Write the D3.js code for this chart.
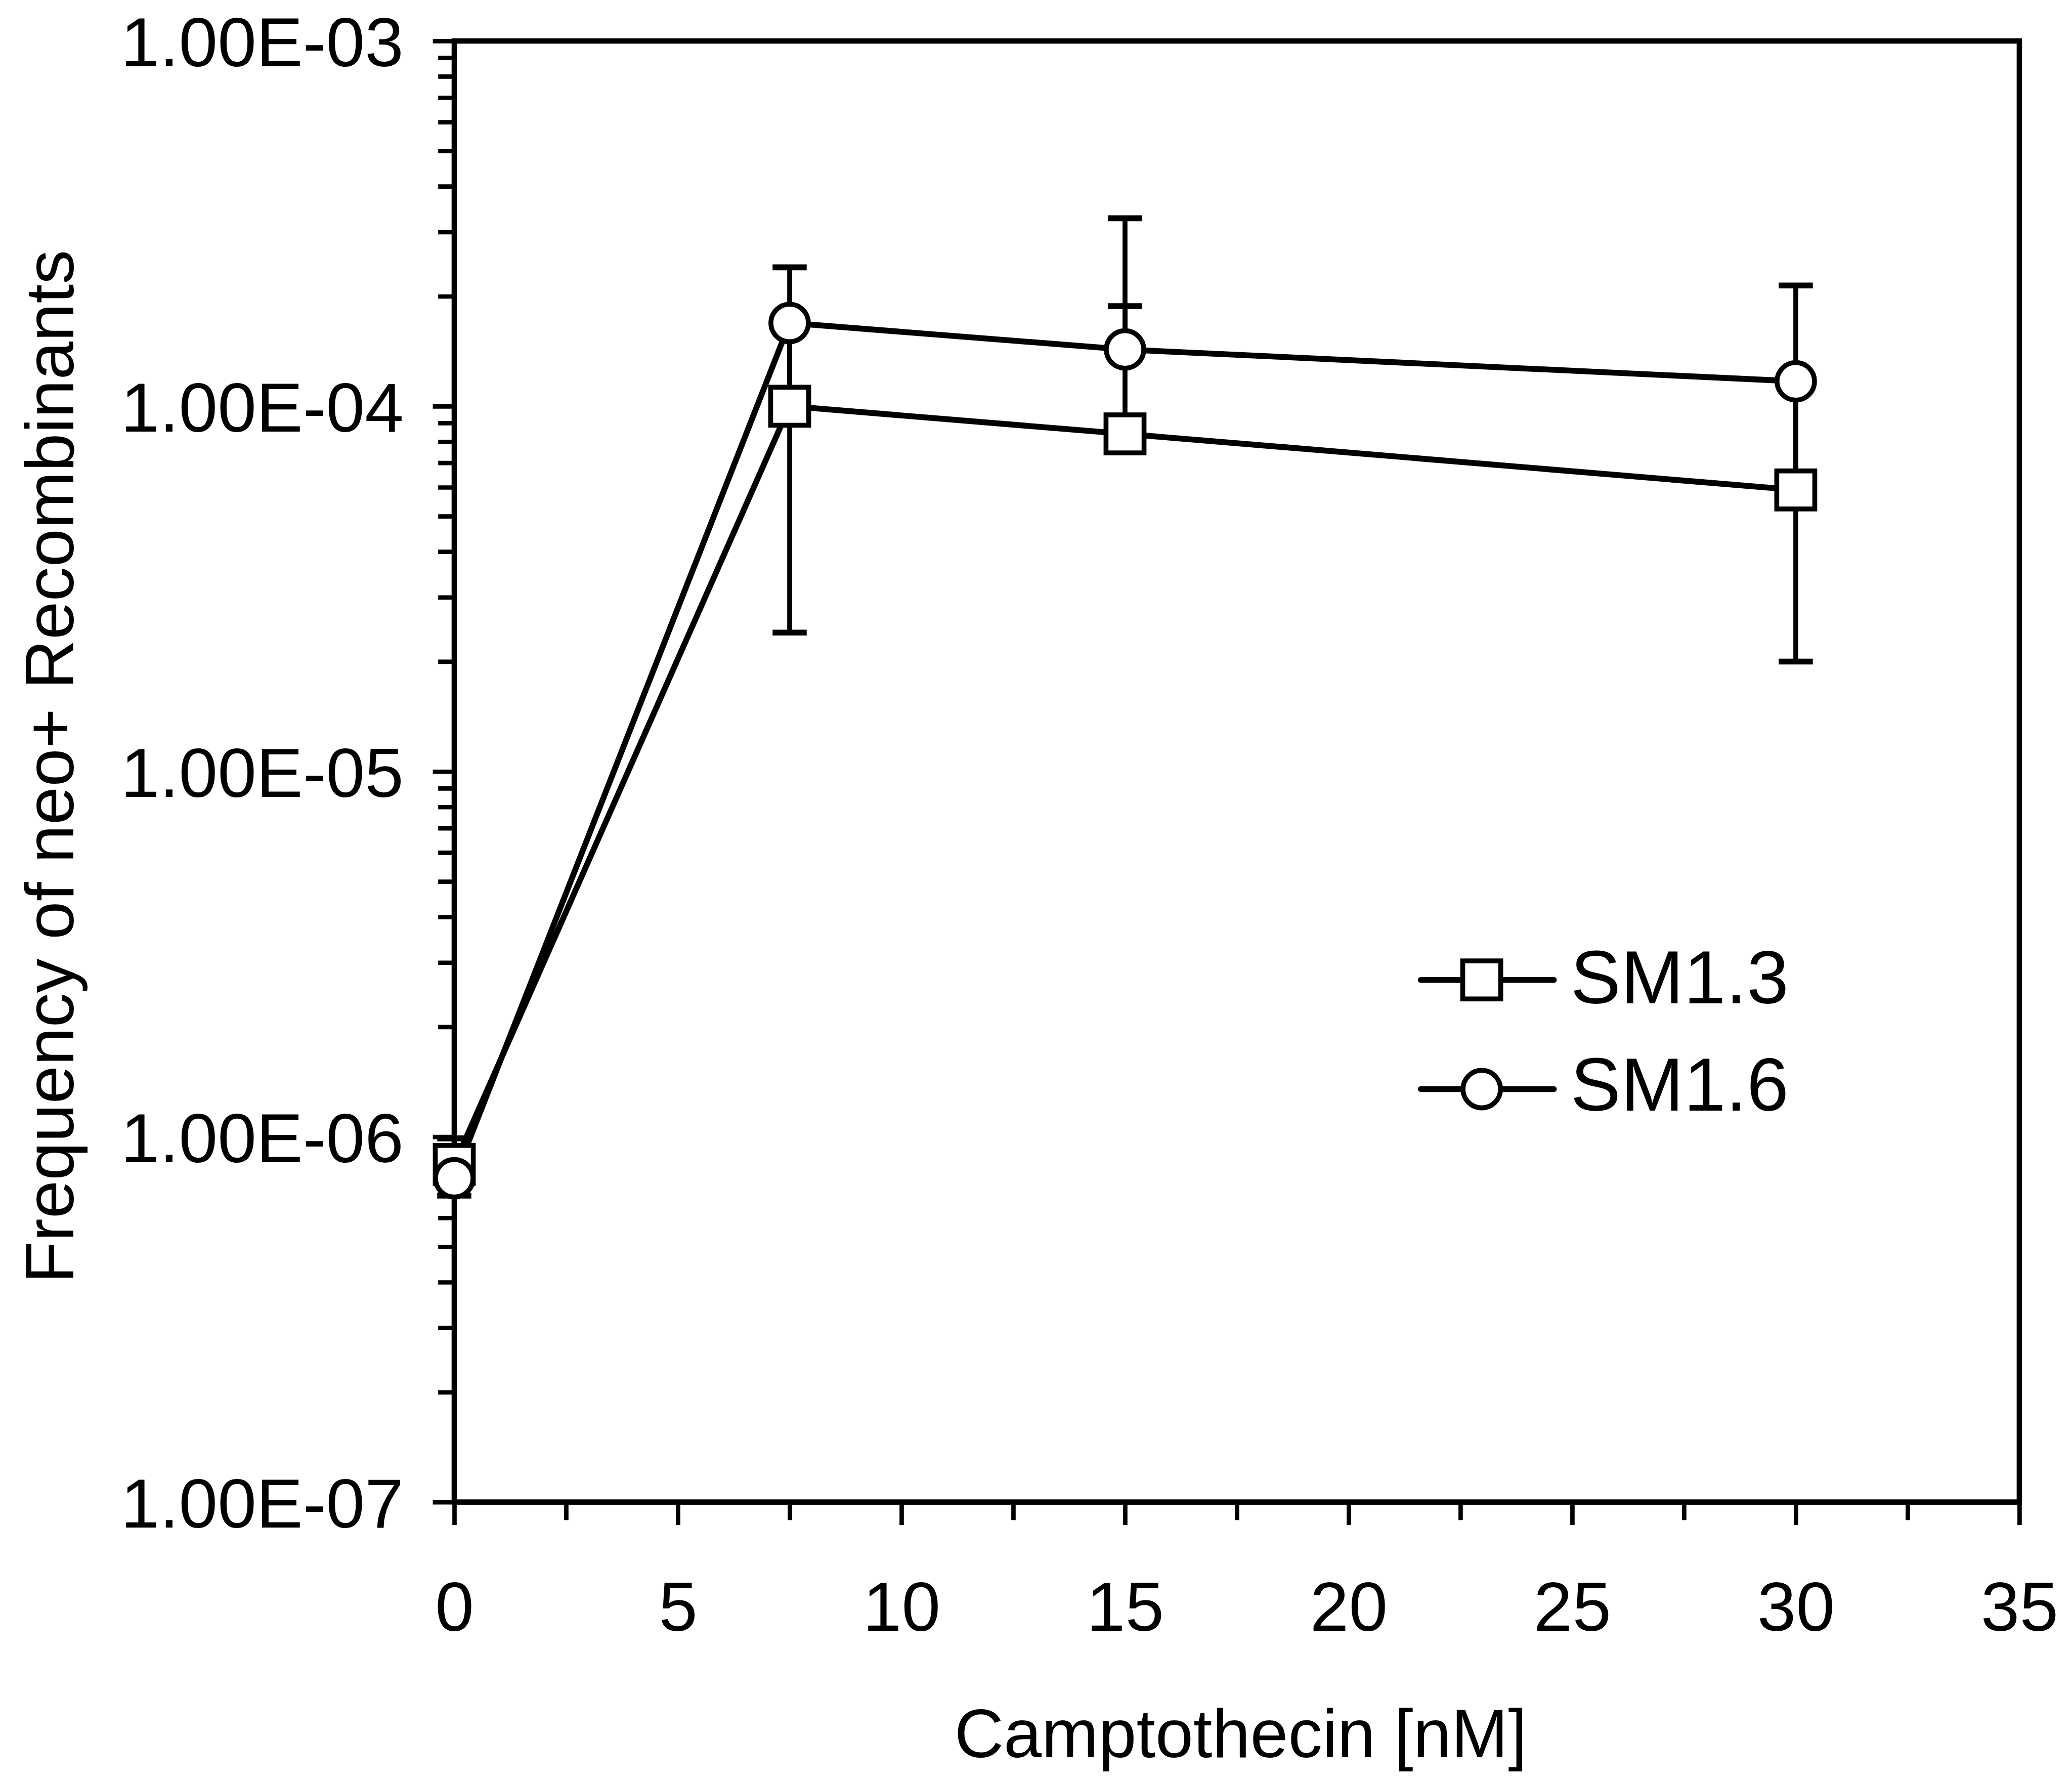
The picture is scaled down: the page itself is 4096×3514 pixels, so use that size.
<!DOCTYPE html>
<html>
<head>
<meta charset="utf-8">
<script src="https://cdn.jsdelivr.net/npm/d3@7"></script>
<style>
  html, body { margin: 0; padding: 0; background: #fff; }
  svg { display: block; }
  text { font-family: "Liberation Sans", Arial, sans-serif; fill: #000; }
</style>
</head>
<body>
<svg id="chart"></svg>
<script>
// Camptothecin dose vs. frequency of neo+ recombinants
const concentrations = [0, 7.5, 15, 30];            // nM
const seriesNames = ["SM1.3", "SM1.6"];
const sm13Values = [8.4e-7, 1.0e-4, 8.4e-5, 5.9e-5];
const sm13Errors = [1.5e-7, 7.6e-5, 1.04e-4, 6.5e-5];
const sm16Values = [7.7e-7, 1.69e-4, 1.43e-4, 1.17e-4];
const sm16Errors = [0, 7.1e-5, 1.84e-4, 9.7e-5];

const xTickValues = [0, 5, 10, 15, 20, 25, 30, 35];
const xTickLabels = ["0", "5", "10", "15", "20", "25", "30", "35"];
const yTickValues = [1e-7, 1e-6, 1e-5, 1e-4, 1e-3];
const yTickLabels = ["1.00E-07", "1.00E-06", "1.00E-05", "1.00E-04", "1.00E-03"];
const xTitle = "Camptothecin [nM]";
const yTitle = "Frequency of neo+ Recombinants";

// drawing units (full-size canvas), scaled to the window by viewBox
const W = 4251, H = 3647;
const plot = { left: 932, top: 84, right: 4143, bottom: 3081 };

const svg = d3.select("#chart")
  .attr("width", 4096).attr("height", 3514)
  .attr("viewBox", `0 0 ${W} ${H}`);

const x = d3.scaleLinear().domain([0, 35]).range([plot.left, plot.right]);
const y = d3.scaleLog().domain([1e-7, 1e-3]).range([plot.bottom, plot.top]);

const tickFont = 143;

// minor ticks
const xMinor = d3.range(2.5, 35, 5);
const yMinor = [];
for (let e = -7; e < -3; e++) for (let m = 2; m <= 9; m++) yMinor.push(m * Math.pow(10, e));

const gxMinor = svg.append("g").attr("transform", `translate(0,${plot.bottom})`)
  .call(d3.axisBottom(x).tickValues(xMinor).tickSize(37).tickSizeOuter(0).tickFormat(""));
const gyMinor = svg.append("g").attr("transform", `translate(${plot.left},0)`)
  .call(d3.axisLeft(y).tickValues(yMinor).tickSize(33).tickSizeOuter(0).tickFormat(""));

const gx = svg.append("g").attr("transform", `translate(0,${plot.bottom})`)
  .call(d3.axisBottom(x).tickValues(xTickValues).tickSize(47).tickSizeOuter(0)
    .tickFormat((d, i) => xTickLabels[i]));
const gy = svg.append("g").attr("transform", `translate(${plot.left},0)`)
  .call(d3.axisLeft(y).tickValues(yTickValues).tickSize(44).tickSizeOuter(0)
    .tickFormat((d, i) => yTickLabels[i]));

[gxMinor, gyMinor, gx, gy].forEach(g => {
  g.select(".domain").remove();
  g.selectAll(".tick line").attr("stroke", "#000").attr("stroke-width", 9);
});

gx.selectAll(".tick text")
  .attr("y", 264).attr("dy", 0)
  .style("font-size", tickFont + "px");
gy.selectAll(".tick text")
  .attr("x", -104).attr("dy", "0.36em")
  .style("font-size", tickFont + "px");

// plot frame
svg.append("rect")
  .attr("x", plot.left).attr("y", plot.top)
  .attr("width", plot.right - plot.left).attr("height", plot.bottom - plot.top)
  .attr("fill", "none").attr("stroke", "#000").attr("stroke-width", 11);

// axis titles
svg.append("text")
  .attr("x", (plot.left + plot.right) / 2 + 8).attr("y", 3604)
  .attr("text-anchor", "middle")
  .style("font-size", "140px")
  .text(xTitle);

svg.append("text")
  .attr("transform", `translate(150,${(plot.top + plot.bottom) / 2 - 10}) rotate(-90)`)
  .attr("text-anchor", "middle")
  .style("font-size", "141px")
  .text(yTitle);

const series = [
  { name: seriesNames[0], values: sm13Values, errors: sm13Errors, shape: "square" },
  { name: seriesNames[1], values: sm16Values, errors: sm16Errors, shape: "circle" }
];
series.forEach(s => {
  s.points = concentrations.map((c, i) => ({ c, v: s.values[i], e: s.errors[i] }));
});

const capHalf = 35;

// error bars (under the lines and markers); a non-positive bound is left off the log axis
const gErr = svg.append("g").attr("stroke", "#000").attr("stroke-width", 10).attr("fill", "none");
series.forEach(s => {
  s.points.forEach(p => {
    if (!p.e) return;
    const cx = x(p.c), cy = y(p.v);
    const hi = p.v + p.e, lo = p.v - p.e;
    const yHi = y(hi);
    gErr.append("line").attr("x1", cx).attr("x2", cx).attr("y1", cy).attr("y2", yHi);
    gErr.append("line").attr("x1", cx - capHalf).attr("x2", cx + capHalf)
      .attr("y1", yHi).attr("y2", yHi).attr("stroke-width", 12);
    if (lo > 0) {
      const yLo = y(lo);
      gErr.append("line").attr("x1", cx).attr("x2", cx).attr("y1", cy).attr("y2", yLo);
      gErr.append("line").attr("x1", cx - capHalf).attr("x2", cx + capHalf)
        .attr("y1", yLo).attr("y2", yLo).attr("stroke-width", 12);
    }
  });
});

// series lines
const line = d3.line().x(d => x(d.c)).y(d => y(d.v));
series.forEach(s => {
  svg.append("path").datum(s.points)
    .attr("d", line)
    .attr("fill", "none").attr("stroke", "#000").attr("stroke-width", 12)
    .attr("stroke-linejoin", "round");
});

// markers
const sq = 78, rad = 38.5;
function drawMarker(g, shape, cx, cy) {
  if (shape === "square") {
    g.append("rect").attr("x", cx - sq / 2).attr("y", cy - sq / 2)
      .attr("width", sq).attr("height", sq)
      .attr("fill", "#fff").attr("stroke", "#000").attr("stroke-width", 10);
  } else {
    g.append("circle").attr("cx", cx).attr("cy", cy).attr("r", rad)
      .attr("fill", "#fff").attr("stroke", "#000").attr("stroke-width", 10);
  }
}
series.forEach(s => {
  const g = svg.append("g");
  s.points.forEach(p => drawMarker(g, s.shape, x(p.c), y(p.v)));
});

// legend
const legend = { x1: 2915, x2: 3188, mx: 3040, tx: 3222, rows: [2010, 2234], baselines: [2058, 2278] };
series.forEach((s, i) => {
  const g = svg.append("g");
  g.append("line").attr("x1", legend.x1).attr("x2", legend.x2)
    .attr("y1", legend.rows[i]).attr("y2", legend.rows[i])
    .attr("stroke", "#000").attr("stroke-width", 12).attr("stroke-linecap", "round");
  drawMarker(g, s.shape, legend.mx, legend.rows[i]);
  g.append("text").attr("x", legend.tx).attr("y", legend.baselines[i])
    .style("font-size", "155px").text(s.name);
});
</script>
</body>
</html>
